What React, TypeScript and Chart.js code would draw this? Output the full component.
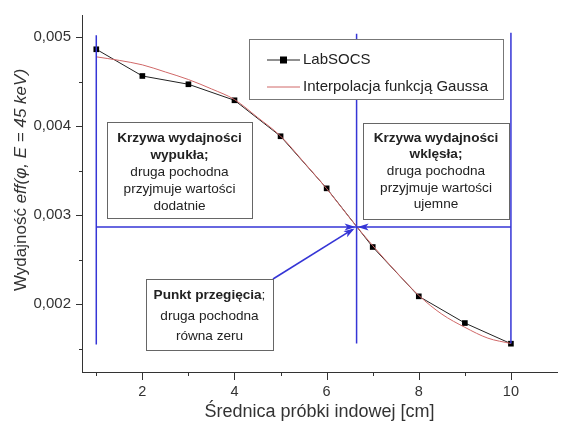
import React, { useEffect, useRef } from "react";
import { Chart, registerables } from "chart.js";

Chart.register(...registerables);

// ---- data ----
const diameters = [1, 2, 3, 4, 5, 6, 7, 8, 9, 10];
const labsocsEff = [0.004865, 0.004565, 0.004472, 0.004292, 0.003888, 0.003303, 0.002644, 0.00209, 0.00179, 0.001558];

const gaussX = [1, 1.5, 2, 2.5, 3, 3.5, 4, 4.5, 5, 5.5, 6, 6.5, 7, 7.5, 8, 8.5, 9, 9.5, 10];
const gaussY = [0.00478, 0.00474, 0.00469, 0.00461, 0.004525, 0.00442, 0.0043, 0.0041, 0.00389, 0.0036, 0.0033, 0.00297, 0.00266, 0.00237, 0.0021, 0.00189, 0.001742, 0.00162, 0.00156];

const inflectionX = 6.65;
const inflectionY = 0.00287;

// guide lines [x1, y1, x2, y2]
const guideLeft = [1, 0.00155, 1, 0.005022];
const guideMid = [inflectionX, 0.00156, inflectionX, 0.00504];
const guideRight = [10, 0.00156, 10, 0.00505];
const guideHoriz = [1, inflectionY, 10, inflectionY];

const xTickValues = [1, 2, 3, 4, 5, 6, 7, 8, 9, 10];
const xLabeled = [2, 4, 6, 8, 10];
const yTickValues = [0.0015, 0.002, 0.0025, 0.003, 0.0035, 0.004, 0.0045, 0.005];
const yLabeled = [0.002, 0.003, 0.004, 0.005];

const FONT = "'Liberation Sans', Arial, sans-serif";
const BLUE = "#3535d6";
const RED = "#d06868";
const TXT = "#222";
const BOXFONT = 13.6;

type Seg = { t: string; b?: boolean };
type Box = { x1: number; y1: number; x2: number; y2: number; lines: Seg[][]; lineY: number[] };

const boxes: Box[] = [
  {
    x1: 107, y1: 122, x2: 252, y2: 218,
    lines: [
      [{ t: "Krzywa wydajności", b: true }],
      [{ t: "wypukła;", b: true }],
      [{ t: "druga pochodna" }],
      [{ t: "przyjmuje wartości" }],
      [{ t: "dodatnie" }],
    ],
    lineY: [138, 155, 172, 189.5, 206.5],
  },
  {
    x1: 363, y1: 123, x2: 509, y2: 219,
    lines: [
      [{ t: "Krzywa wydajności", b: true }],
      [{ t: "wklęsła;", b: true }],
      [{ t: "druga pochodna" }],
      [{ t: "przyjmuje wartości" }],
      [{ t: "ujemne" }],
    ],
    lineY: [138, 154.5, 171, 188, 204.5],
  },
  {
    x1: 146, y1: 279, x2: 273, y2: 350,
    lines: [
      [{ t: "Punkt przegięcia", b: true }, { t: ";" }],
      [{ t: "druga pochodna" }],
      [{ t: "równa zeru" }],
    ],
    lineY: [295.5, 316, 336],
  },
];

const legendBox = { x1: 249, y1: 39, x2: 503, y2: 99 };
const legendItems = ["LabSOCS", "Interpolacja funkcją Gaussa"];

function near(list: number[], v: number) {
  return list.some((a) => Math.abs(a - v) < 1e-9);
}

function arrowHead(ctx: CanvasRenderingContext2D, fx: number, fy: number, tx: number, ty: number, len = 10, w = 3.5) {
  const ang = Math.atan2(ty - fy, tx - fx);
  ctx.save();
  ctx.translate(tx, ty);
  ctx.rotate(ang);
  ctx.beginPath();
  ctx.moveTo(0, 0);
  ctx.lineTo(-len, -w);
  ctx.lineTo(-len * 0.75, 0);
  ctx.lineTo(-len, w);
  ctx.closePath();
  ctx.fill();
  ctx.restore();
}

const annotPlugin = {
  id: "annot",
  afterDatasetsDraw(chart: any) {
    const ctx: CanvasRenderingContext2D = chart.ctx;
    const xs = chart.scales.x;
    const ys = chart.scales.y;
    const area = chart.chartArea;
    const cx = xs.getPixelForValue(inflectionX);
    const cy = ys.getPixelForValue(inflectionY);

    ctx.save();
    // arrows
    ctx.fillStyle = BLUE;
    ctx.strokeStyle = BLUE;
    ctx.lineWidth = 1.6;
    arrowHead(ctx, cx - 20, cy, cx - 1, cy, 11, 3.5);
    arrowHead(ctx, cx + 20, cy, cx + 1, cy, 11, 3.5);
    const bx = boxes[2].x2, by = boxes[2].y1;
    ctx.beginPath();
    ctx.moveTo(bx, by);
    ctx.lineTo(cx - 4, cy + 2.5);
    ctx.stroke();
    arrowHead(ctx, bx, by, cx - 2, cy + 1.5, 11, 3.5);

    // boxes
    ctx.lineWidth = 1;
    for (const b of boxes) {
      ctx.fillStyle = "#fff";
      ctx.fillRect(b.x1, b.y1, b.x2 - b.x1, b.y2 - b.y1);
      ctx.strokeStyle = "#666";
      ctx.strokeRect(b.x1 + 0.5, b.y1 + 0.5, b.x2 - b.x1, b.y2 - b.y1);
      const mid = (b.x1 + b.x2) / 2;
      ctx.fillStyle = TXT;
      ctx.textBaseline = "middle";
      ctx.textAlign = "left";
      b.lines.forEach((segs, i) => {
        let total = 0;
        const widths = segs.map((s) => {
          ctx.font = `${s.b ? "bold " : ""}${BOXFONT}px ${FONT}`;
          const w = ctx.measureText(s.t).width;
          total += w;
          return w;
        });
        let x = mid - total / 2;
        segs.forEach((s, j) => {
          ctx.font = `${s.b ? "bold " : ""}${BOXFONT}px ${FONT}`;
          ctx.fillText(s.t, x, b.lineY[i]);
          x += widths[j];
        });
      });
    }

    // legend
    const L = legendBox;
    ctx.fillStyle = "#fff";
    ctx.fillRect(L.x1, L.y1, L.x2 - L.x1, L.y2 - L.y1);
    ctx.strokeStyle = "#777";
    ctx.strokeRect(L.x1 + 0.5, L.y1 + 0.5, L.x2 - L.x1, L.y2 - L.y1);
    const rows = [60, 87];
    ctx.lineWidth = 1;
    ctx.strokeStyle = "#222";
    ctx.beginPath();
    ctx.moveTo(267, rows[0]);
    ctx.lineTo(300, rows[0]);
    ctx.stroke();
    ctx.fillStyle = "#000";
    ctx.fillRect(280, rows[0] - 3.5, 7, 7);
    ctx.strokeStyle = RED;
    ctx.beginPath();
    ctx.moveTo(267, rows[1]);
    ctx.lineTo(300, rows[1]);
    ctx.stroke();
    ctx.fillStyle = TXT;
    ctx.font = `15px ${FONT}`;
    ctx.textBaseline = "middle";
    ctx.textAlign = "left";
    legendItems.forEach((t, i) => ctx.fillText(t, 303, rows[i]));

    // tick marks
    ctx.strokeStyle = "#333";
    ctx.lineWidth = 1;
    ctx.beginPath();
    for (const v of xTickValues) {
      const px = Math.round(xs.getPixelForValue(v)) + 0.5;
      const len = near(xLabeled, v) ? 8 : 4;
      ctx.moveTo(px, area.bottom);
      ctx.lineTo(px, area.bottom + len);
    }
    for (const v of yTickValues) {
      const py = Math.round(ys.getPixelForValue(v)) + 0.5;
      const len = near(yLabeled, v) ? 6 : 3;
      ctx.moveTo(area.left, py);
      ctx.lineTo(area.left - len, py);
    }
    ctx.stroke();

    // y title with italic part
    const parts: { t: string; i: boolean }[] = [
      { t: "Wydajność ", i: false },
      { t: "eff(φ, E = 45 keV)", i: true },
    ];
    let total = 0;
    const ws = parts.map((p) => {
      ctx.font = `${p.i ? "italic " : ""}17px ${FONT}`;
      const w = ctx.measureText(p.t).width;
      total += w;
      return w;
    });
    ctx.translate(21, 180);
    ctx.rotate(-Math.PI / 2);
    ctx.fillStyle = "#333";
    ctx.textBaseline = "middle";
    let x = -total / 2;
    parts.forEach((p, j) => {
      ctx.font = `${p.i ? "italic " : ""}17px ${FONT}`;
      ctx.fillText(p.t, x, 0);
      x += ws[j];
    });
    ctx.restore();
  },
};

function seg(a: number[]) {
  return [
    { x: a[0], y: a[1] },
    { x: a[2], y: a[3] },
  ];
}

export default function App() {
  const ref = useRef<HTMLCanvasElement>(null);
  useEffect(() => {
    if (!ref.current) return;
    const guideStyle = {
      borderColor: BLUE,
      borderWidth: 1.5,
      pointRadius: 0,
      showLine: true,
      fill: false,
    };
    const chart = new Chart(ref.current, {
      type: "scatter",
      data: {
        datasets: [
          { ...guideStyle, data: seg(guideLeft) },
          { ...guideStyle, data: seg(guideMid) },
          { ...guideStyle, data: seg(guideRight) },
          { ...guideStyle, data: seg(guideHoriz) },
          {
            label: legendItems[1],
            data: gaussX.map((x, i) => ({ x, y: gaussY[i] })),
            showLine: true,
            borderColor: RED,
            borderWidth: 1,
            pointRadius: 0,
            cubicInterpolationMode: "monotone",
          },
          {
            label: legendItems[0],
            data: diameters.map((x, i) => ({ x, y: labsocsEff[i] })),
            showLine: true,
            borderColor: "#222",
            borderWidth: 1,
            pointStyle: "rect",
            pointRadius: 4,
            pointBackgroundColor: "#000",
            pointBorderColor: "#000",
            pointBorderWidth: 0,
          },
        ],
      },
      options: {
        animation: false,
        responsive: false,
        devicePixelRatio: 1,
        layout: { padding: { top: 15, right: 0, left: 0, bottom: 0 } },
        plugins: { legend: { display: false }, tooltip: { enabled: false } },
        scales: {
          x: {
            type: "linear",
            min: 0.69,
            max: 11,
            afterBuildTicks: (s: any) => {
              s.ticks = xTickValues.map((v) => ({ value: v }));
            },
            afterFit: (s: any) => {
              s.height = 51;
            },
            ticks: {
              autoSkip: false,
              maxRotation: 0,
              padding: 3,
              color: "#333",
              font: { family: FONT, size: 14.5 },
              callback: (v: any) => (near(xLabeled, Number(v)) ? String(v) : ""),
            },
            grid: { display: true, drawOnChartArea: false, drawTicks: true, tickLength: 8, tickColor: "rgba(0,0,0,0)" },
            border: { display: true, color: "#333", width: 1 },
            title: {
              display: true,
              text: "Średnica próbki indowej [cm]",
              color: "#333",
              font: { family: FONT, size: 18 },
              padding: { top: 0, bottom: 0 },
            },
          },
          y: {
            type: "linear",
            min: 0.00124,
            max: 0.00525,
            afterBuildTicks: (s: any) => {
              s.ticks = yTickValues.map((v) => ({ value: v }));
            },
            afterFit: (s: any) => {
              s.width = 82;
            },
            ticks: {
              autoSkip: false,
              padding: 5,
              color: "#333",
              font: { family: FONT, size: 15 },
              callback: (v: any) => (near(yLabeled, Number(v)) ? Number(v).toFixed(3).replace(".", ",") : ""),
            },
            grid: { display: true, drawOnChartArea: false, drawTicks: true, tickLength: 6, tickColor: "rgba(0,0,0,0)" },
            border: { display: true, color: "#333", width: 1 },
          },
        },
      },
      plugins: [annotPlugin],
    });
    return () => chart.destroy();
  }, []);
  return (
    <div style={{ position: "absolute", left: 0, top: 0, width: 561, height: 423, background: "#fff" }}>
      <canvas ref={ref} width={561} height={423} style={{ display: "block" }} />
    </div>
  );
}
